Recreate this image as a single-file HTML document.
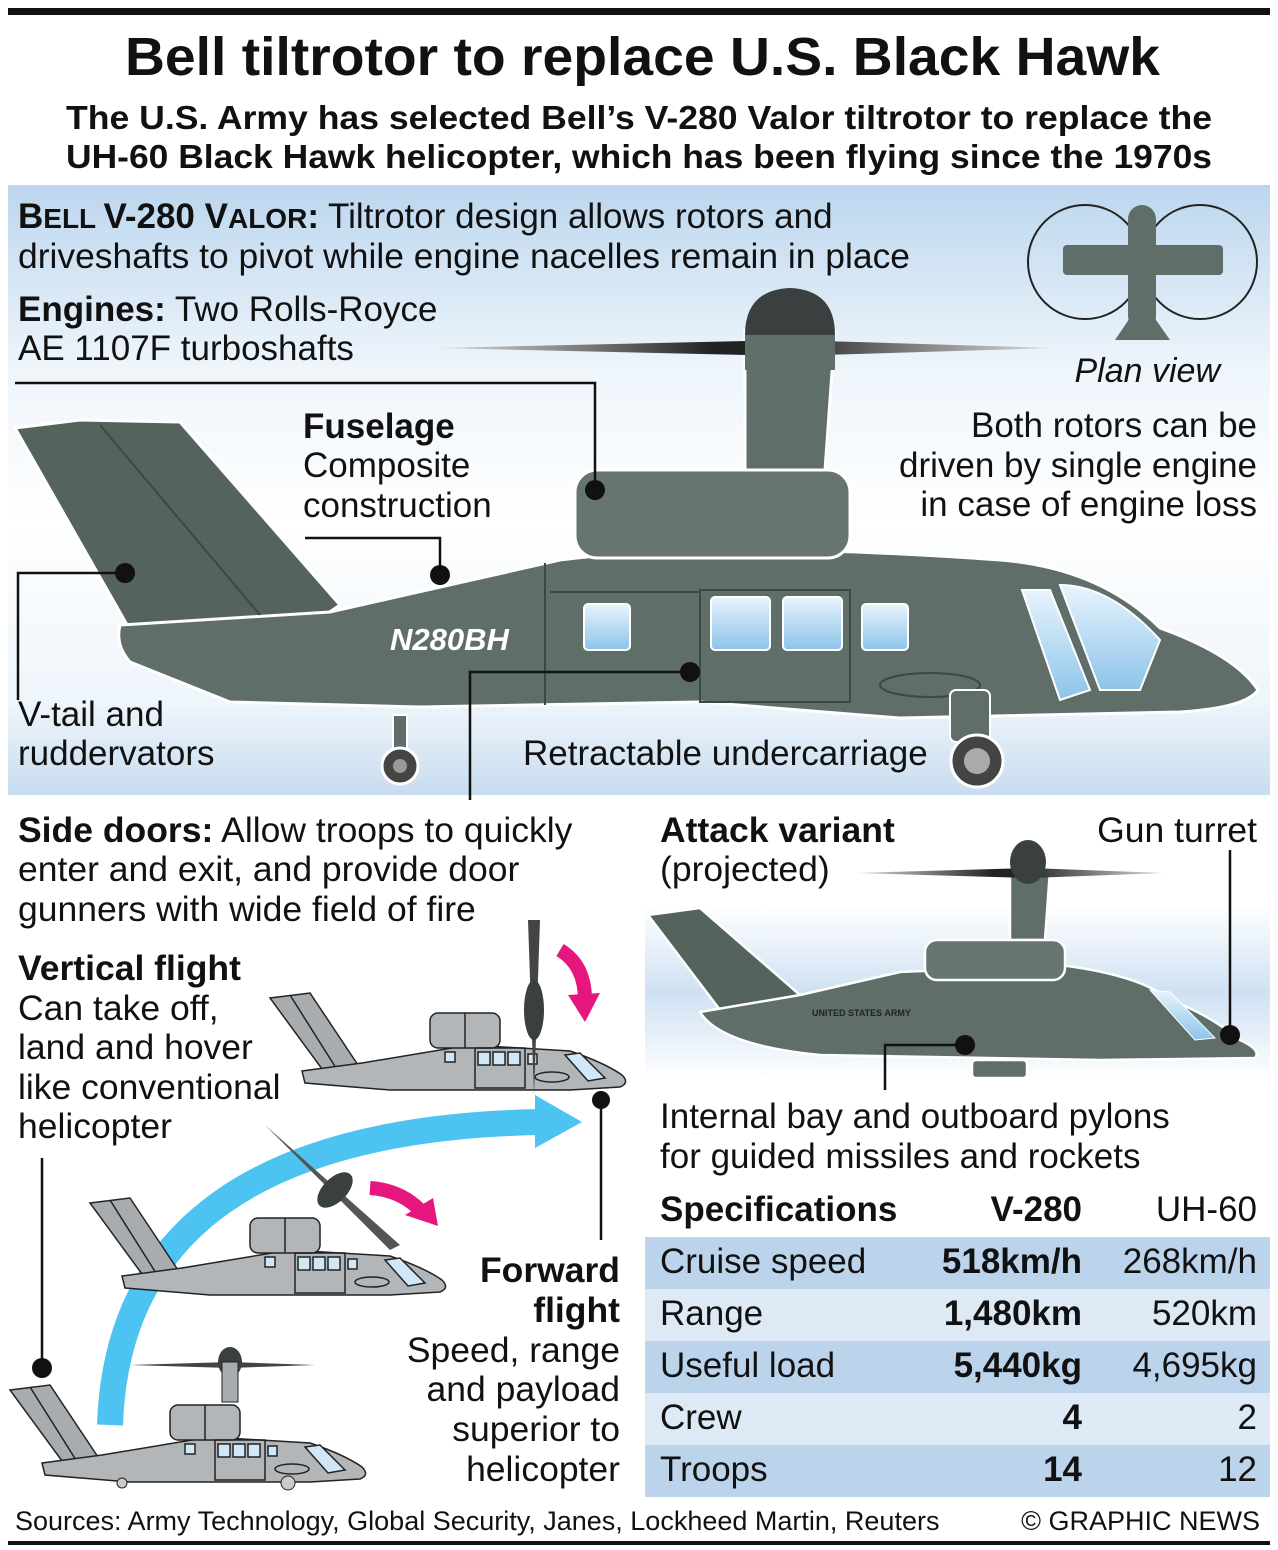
<!DOCTYPE html>
<html><head><meta charset="utf-8"><style>
html,body{margin:0;padding:0;background:#fff}
svg{display:block}
text{font-family:"Liberation Sans",Arial,sans-serif;fill:#111}
.b{font-weight:bold}
</style></head><body>
<svg width="1278" height="1550" viewBox="0 0 1278 1550" xmlns="http://www.w3.org/2000/svg">
<defs>
<linearGradient id="bg" x1="0" y1="0" x2="0" y2="1">
<stop offset="0" stop-color="#bcd6ee"/><stop offset="0.3" stop-color="#eef5fb"/><stop offset="0.55" stop-color="#fff"/><stop offset="0.85" stop-color="#eef5fb"/><stop offset="1" stop-color="#c8dcef"/>
</linearGradient>
<linearGradient id="bg2" x1="0" y1="0" x2="0" y2="1">
<stop offset="0" stop-color="#fff"/><stop offset="0.5" stop-color="#cfe1f2"/><stop offset="1" stop-color="#fff"/>
</linearGradient>
<linearGradient id="blade" x1="0" y1="0" x2="1" y2="0">
<stop offset="0" stop-color="#ddd"/><stop offset="0.45" stop-color="#222"/><stop offset="0.55" stop-color="#222"/><stop offset="1" stop-color="#ddd"/>
</linearGradient>
<linearGradient id="win" x1="0" y1="0" x2="0" y2="1">
<stop offset="0" stop-color="#e8f4fc"/><stop offset="1" stop-color="#8cc4ea"/>
</linearGradient>
<g id="small" stroke="#222" stroke-width="1.5">
<polygon points="0,5 40,0 88,72 52,76" fill="#a9acae"/>
<line x1="20" y1="2" x2="66" y2="75"/>
<path d="M32,78 L92,70 L200,52 L300,58 Q335,70 352,82 Q360,90 350,94 L300,97 L120,97 L35,90 Z" fill="#b3b6b8"/>
<rect x="160" y="20" width="70" height="35" rx="8" fill="#b3b6b8"/>
<line x1="195" y1="20" x2="195" y2="55"/>
<rect x="175" y="59" width="10" height="10" fill="#cfe7f7"/>
<rect x="205" y="55" width="50" height="40" fill="none"/>
<rect x="208" y="59" width="12" height="13" fill="#cfe7f7"/><rect x="223" y="59" width="12" height="13" fill="#cfe7f7"/><rect x="238" y="59" width="12" height="13" fill="#cfe7f7"/>
<rect x="258" y="61" width="9" height="10" fill="#cfe7f7"/>
<path d="M295,62 L310,60 L335,85 L318,88 Z" fill="#cfe7f7"/>
<ellipse cx="282" cy="84" rx="17" ry="5" fill="none"/>
</g>
</defs>

<rect x="8" y="8" width="1262" height="7" fill="#111"/>
<text x="125" y="75" class="b" font-size="54" textLength="1035" lengthAdjust="spacingAndGlyphs">Bell tiltrotor to replace U.S. Black Hawk</text>
<text x="66" y="129" class="b" font-size="33" textLength="1146" lengthAdjust="spacingAndGlyphs">The U.S. Army has selected Bell’s V-280 Valor tiltrotor to replace the</text>
<text x="66" y="168" class="b" font-size="33" textLength="1146" lengthAdjust="spacingAndGlyphs">UH-60 Black Hawk helicopter, which has been flying since the 1970s</text>

<rect x="8" y="185" width="1262" height="610" fill="url(#bg)"/>
<rect x="645" y="905" width="625" height="175" fill="url(#bg2)"/>
<text x="18" y="228" font-size="35"><tspan class="b">B</tspan><tspan class="b" font-size="28">ELL </tspan><tspan class="b">V-280 V</tspan><tspan class="b" font-size="28">ALOR</tspan><tspan class="b">:</tspan> Tiltrotor design allows rotors and</text>
<text x="18" y="268" font-size="35" textLength="892" lengthAdjust="spacingAndGlyphs">driveshafts to pivot while engine nacelles remain in place</text>
<text x="18" y="321" font-size="35"><tspan class="b">Engines:</tspan> Two Rolls-Royce</text>
<text x="18" y="360" font-size="35">AE 1107F turboshafts</text>

<!-- plan view -->
<g stroke="#222" stroke-width="2" fill="none">
<circle cx="1085" cy="262" r="57"/><circle cx="1200" cy="262" r="57"/>
</g>
<g fill="#5f6e68">
<rect x="1063" y="245" width="160" height="30" rx="4"/>
<rect x="1128" y="205" width="28" height="125" rx="14"/>
<polygon points="1142,300 1115,340 1170,340"/>
</g>
<text x="1220" y="382" text-anchor="end" font-size="34" font-style="italic">Plan view</text>
<text x="1257" y="437" text-anchor="end" font-size="35">Both rotors can be</text>
<text x="1257" y="477" text-anchor="end" font-size="35">driven by single engine</text>
<text x="1257" y="516" text-anchor="end" font-size="35">in case of engine loss</text>

<text x="303" y="438" class="b" font-size="35">Fuselage</text>
<text x="303" y="477" font-size="35">Composite</text>
<text x="303" y="517" font-size="35">construction</text>

<!-- main aircraft -->
<g stroke="#fff" stroke-width="3">
<polygon points="15,428 80,420 180,422 340,605 300,632 130,630" fill="#55635d"/>
<path d="M120,625 L330,612 L560,560 Q720,540 1000,560 Q1100,568 1160,628 Q1235,655 1258,690 Q1245,708 1180,712 L900,718 L700,702 L420,707 L230,702 L130,662 Q115,645 120,625 Z" fill="#5f6e68"/>
<path d="M745,470 L745,330 L835,330 L825,470 Z" fill="#5f6e68"/>
<rect x="575" y="470" width="275" height="88" rx="22" fill="#66756f"/>
</g>
<path d="M435,348 L790,340 L1055,348 L790,356 Z" fill="url(#blade)"/>
<path d="M745,335 Q745,290 790,288 Q835,290 835,335 Z" fill="#3a3f40"/>
<rect x="745" y="335" width="90" height="35" fill="#5f6e68"/>
<g stroke="#3c4844" stroke-width="2" fill="none">
<line x1="100" y1="425" x2="260" y2="615"/>
<rect x="700" y="590" width="150" height="112"/>
<line x1="545" y1="563" x2="545" y2="705"/>
<line x1="550" y1="592" x2="700" y2="592"/>
<ellipse cx="930" cy="685" rx="50" ry="12"/>
</g>
<g fill="url(#win)" stroke="#fff" stroke-width="2">
<rect x="584" y="604" width="46" height="46" rx="4"/>
<rect x="711" y="597" width="59" height="53" rx="4"/>
<rect x="783" y="597" width="59" height="53" rx="4"/>
<rect x="862" y="604" width="46" height="46" rx="4"/>
<path d="M1022,590 L1050,590 L1090,690 L1060,700 Z"/>
<path d="M1060,585 Q1110,585 1160,640 L1140,690 L1100,690 Z"/>
</g>
<text x="390" y="650" font-size="31" font-style="italic" class="b" style="fill:#fff">N280BH</text>
<g fill="#5f6e68" stroke="#fff" stroke-width="2">
<rect x="950" y="690" width="40" height="52" rx="6"/>
<rect x="393" y="715" width="14" height="35"/>
</g>
<circle cx="400" cy="766" r="18" fill="#444" stroke="#fff" stroke-width="3"/>
<circle cx="400" cy="766" r="7" fill="#999"/>
<circle cx="977" cy="761" r="26" fill="#444" stroke="#fff" stroke-width="3"/>
<circle cx="977" cy="761" r="13" fill="#aaa"/>

<text x="18" y="726" font-size="35">V-tail and</text>
<text x="18" y="765" font-size="35">ruddervators</text>
<text x="523" y="765" font-size="35">Retractable undercarriage</text>

<!-- bottom left text -->
<text x="18" y="842" font-size="35.5"><tspan class="b">Side doors:</tspan> Allow troops to quickly</text>
<text x="18" y="881" font-size="35.5">enter and exit, and provide door</text>
<text x="18" y="921" font-size="35.5">gunners with wide field of fire</text>
<text x="18" y="980" class="b" font-size="35.5">Vertical flight</text>
<text x="18" y="1020" font-size="35.5">Can take off,</text>
<text x="18" y="1059" font-size="35.5">land and hover</text>
<text x="18" y="1099" font-size="35.5">like conventional</text>
<text x="18" y="1138" font-size="35.5">helicopter</text>

<g text-anchor="end" font-size="35.5">
<text x="620" y="1282" class="b">Forward</text>
<text x="620" y="1322" class="b">flight</text>
<text x="620" y="1362">Speed, range</text>
<text x="620" y="1401">and payload</text>
<text x="620" y="1441">superior to</text>
<text x="620" y="1481">helicopter</text>
</g>

<!-- blue arc -->
<path d="M110,1425 Q120,1130 540,1122" fill="none" stroke="#4cc3f0" stroke-width="26"/>
<polygon points="535,1095 582,1122 535,1148" fill="#4cc3f0"/>

<!-- small aircraft -->
<use href="#small" transform="translate(270,993)"/>
<path d="M528,920 L534,1095 L540,920 Z" fill="#444"/>
<ellipse cx="534" cy="1010" rx="10" ry="30" fill="#3a3f40"/>
<use href="#small" transform="translate(90,1198)"/>
<path d="M265,1125 L400,1245 L390,1250 Z" fill="#555"/>
<ellipse cx="335" cy="1190" rx="12" ry="22" fill="#3a3f40" transform="rotate(45 335 1190)"/>
<use href="#small" transform="translate(10,1385)"/>
<path d="M130,1365 L230,1362 L315,1365 L230,1368 Z" fill="#444"/>
<ellipse cx="230" cy="1362" rx="12" ry="15" fill="#3a3f40"/>
<rect x="222" y="1362" width="16" height="40" fill="#a9acae" stroke="#222"/>
<circle cx="122" cy="1483" r="5" fill="#ccc" stroke="#222"/>
<circle cx="288" cy="1483" r="7" fill="#ccc" stroke="#222"/>
<!-- magenta arrows -->
<path d="M560,950 Q585,965 585,1000" fill="none" stroke="#e5177f" stroke-width="14"/>
<polygon points="568,995 600,993 585,1022" fill="#e5177f"/>
<path d="M370,1188 Q400,1190 420,1210" fill="none" stroke="#e5177f" stroke-width="14"/>
<polygon points="405,1215 433,1198 438,1226" fill="#e5177f"/>

<!-- attack variant -->
<text x="660" y="842" class="b" font-size="35.5">Attack variant</text>
<text x="660" y="881" font-size="35.5">(projected)</text>
<text x="1257" y="842" text-anchor="end" font-size="35.5">Gun turret</text>
<g stroke="#fff" stroke-width="2.5">
<polygon points="648,915 700,908 800,995 760,1010 720,1010" fill="#55635d"/>
<path d="M700,1012 L800,995 L900,972 L1060,965 Q1140,975 1170,1000 Q1210,1015 1240,1040 Q1262,1050 1255,1058 L1100,1060 L820,1055 Q720,1045 700,1012 Z" fill="#5f6e68"/>
<path d="M1010,940 L1010,870 Q1030,860 1050,870 L1045,940 Z" fill="#5f6e68"/>
<rect x="925" y="940" width="140" height="40" rx="12" fill="#66756f"/>
<rect x="972" y="1060" width="55" height="18" rx="4" fill="#5f6e68"/>
</g>
<path d="M855,873 L1030,868 L1165,873 L1030,878 Z" fill="url(#blade)"/>
<ellipse cx="1028" cy="862" rx="18" ry="22" fill="#3a3f40"/>
<text x="812" y="1016" font-size="9" class="b" style="fill:#222">UNITED STATES ARMY</text>
<path d="M1150,990 L1170,992 L1215,1038 L1195,1040 Z" fill="url(#win)" stroke="#fff"/>
<text x="660" y="1128" font-size="35">Internal bay and outboard pylons</text>
<text x="660" y="1168" font-size="35">for guided missiles and rockets</text>

<!-- leader lines -->
<g stroke="#111" stroke-width="2.5" fill="none">
<polyline points="15,383 595,383 595,490"/>
<polyline points="305,538 440,538 440,575"/>
<polyline points="18,700 18,573 125,573"/>
<polyline points="470,800 470,672 690,672"/>
<polyline points="885,1090 885,1045 965,1045"/>
<line x1="1230" y1="850" x2="1230" y2="1035"/>
<line x1="601" y1="1100" x2="601" y2="1240"/>
<line x1="42" y1="1158" x2="42" y2="1368"/>
</g>
<g fill="#111">
<circle cx="595" cy="490" r="10"/><circle cx="440" cy="575" r="10"/><circle cx="125" cy="573" r="10"/>
<circle cx="690" cy="672" r="10"/><circle cx="965" cy="1045" r="10"/><circle cx="1230" cy="1035" r="10"/>
<circle cx="601" cy="1100" r="9"/><circle cx="42" cy="1368" r="10"/>
</g>

<!-- table -->
<rect x="645" y="1237" width="625" height="52" fill="#bcd4eb"/>
<rect x="645" y="1289" width="625" height="52" fill="#dde9f5"/>
<rect x="645" y="1341" width="625" height="52" fill="#bcd4eb"/>
<rect x="645" y="1393" width="625" height="52" fill="#dde9f5"/>
<rect x="645" y="1445" width="625" height="52" fill="#bcd4eb"/>
<g font-size="35">
<text x="660" y="1221" class="b">Specifications</text>
<text x="1082" y="1221" class="b" text-anchor="end">V-280</text>
<text x="1257" y="1221" text-anchor="end">UH-60</text>
<text x="660" y="1273">Cruise speed</text><text x="1082" y="1273" class="b" text-anchor="end">518km/h</text><text x="1257" y="1273" text-anchor="end">268km/h</text>
<text x="660" y="1325">Range</text><text x="1082" y="1325" class="b" text-anchor="end">1,480km</text><text x="1257" y="1325" text-anchor="end">520km</text>
<text x="660" y="1377">Useful load</text><text x="1082" y="1377" class="b" text-anchor="end">5,440kg</text><text x="1257" y="1377" text-anchor="end">4,695kg</text>
<text x="660" y="1429">Crew</text><text x="1082" y="1429" class="b" text-anchor="end">4</text><text x="1257" y="1429" text-anchor="end">2</text>
<text x="660" y="1481">Troops</text><text x="1082" y="1481" class="b" text-anchor="end">14</text><text x="1257" y="1481" text-anchor="end">12</text>
</g>

<text x="15" y="1530" font-size="27">Sources: Army Technology, Global Security, Janes, Lockheed Martin, Reuters</text>
<text x="1260" y="1530" font-size="27" text-anchor="end">© GRAPHIC NEWS</text>
<rect x="8" y="1541" width="1262" height="4" fill="#111"/>
</svg>
</body></html>
